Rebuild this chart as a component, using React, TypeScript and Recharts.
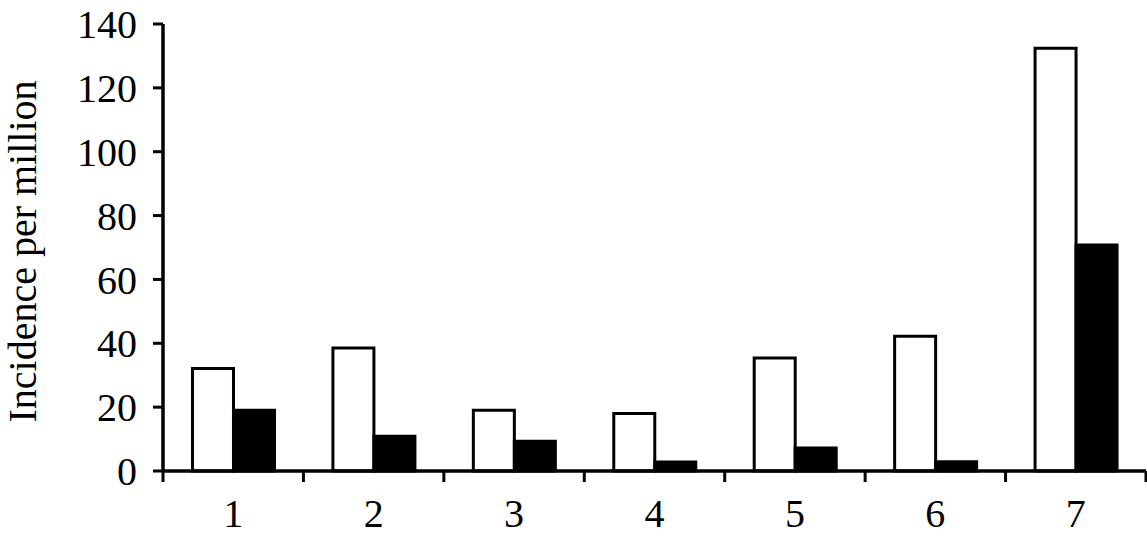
import React from 'react';
import { BarChart, Bar, XAxis, YAxis } from 'recharts';

const categories = ['1', '2', '3', '4', '5', '6', '7'];
const whiteSeries = [32.1, 38.5, 19.0, 18.0, 35.4, 42.2, 132.4];
const blackSeries = [19.0, 10.9, 9.3, 2.8, 7.2, 2.9, 70.8];
const yTicks = [0, 20, 40, 60, 80, 100, 120, 140];

const data = categories.map((c, i) => ({ cat: c, a: whiteSeries[i], b: blackSeries[i] }));

const FONT = '"Liberation Serif", "Times New Roman", serif';
const X_TICK_MARGIN = 28;

const YLabel = (props: any) => {
  const vb = props.viewBox || { x: 0, y: 0, width: 0, height: 0 };
  const x = 36;
  const y = vb.y + vb.height / 2 + 4;
  return (
    <text
      x={x}
      y={y}
      transform={`rotate(-90, ${x}, ${y})`}
      textAnchor="middle"
      fontFamily={FONT}
      fontSize={40}
      fill="#000"
    >
      Incidence per million
    </text>
  );
};

const CatTick = (props: any) => {
  const { x, y, payload, index, width, visibleTicksCount } = props;
  const count = visibleTicksCount || categories.length;
  const band = width / count;
  const axisY = y - X_TICK_MARGIN;
  const left = x - band / 2;
  const right = x + band / 2;
  return (
    <g>
      <line x1={left} y1={axisY} x2={left} y2={axisY + 11} stroke="#000" strokeWidth={3} />
      {index === count - 1 && (
        <line x1={right} y1={axisY} x2={right} y2={axisY + 11} stroke="#000" strokeWidth={3} />
      )}
      <text
        x={x}
        y={y}
        dy="0.71em"
        textAnchor="middle"
        fontFamily={FONT}
        fontSize={40}
        fill="#000"
      >
        {payload.value}
      </text>
    </g>
  );
};

export default function App() {
  return (
    <div style={{ position: 'absolute', left: 0, top: 0, width: 1147, height: 536, background: '#fff' }}>
      <BarChart
        width={1147}
        height={536}
        data={data}
        margin={{ top: 24, right: 1, bottom: 0, left: 0 }}
        barCategoryGap="21%"
        barGap={0}
      >
        <XAxis
          dataKey="cat"
          height={65}
          tickSize={0}
          tickMargin={X_TICK_MARGIN}
          tickLine={false}
          axisLine={{ stroke: '#000', strokeWidth: 3.5 }}
          tick={<CatTick />}
          interval={0}
        />
        <YAxis
          width={163}
          domain={[0, 140]}
          ticks={yTicks}
          tickSize={10}
          tickMargin={16}
          axisLine={{ stroke: '#000', strokeWidth: 3.5 }}
          tickLine={{ stroke: '#000', strokeWidth: 3 }}
          tick={{ fontFamily: FONT, fontSize: 40, fill: '#000' }}
          label={<YLabel />}
        />
        <Bar dataKey="a" fill="#fff" stroke="#000" strokeWidth={3} isAnimationActive={false} />
        <Bar dataKey="b" fill="#000" stroke="#000" strokeWidth={3} isAnimationActive={false} />
      </BarChart>
    </div>
  );
}
